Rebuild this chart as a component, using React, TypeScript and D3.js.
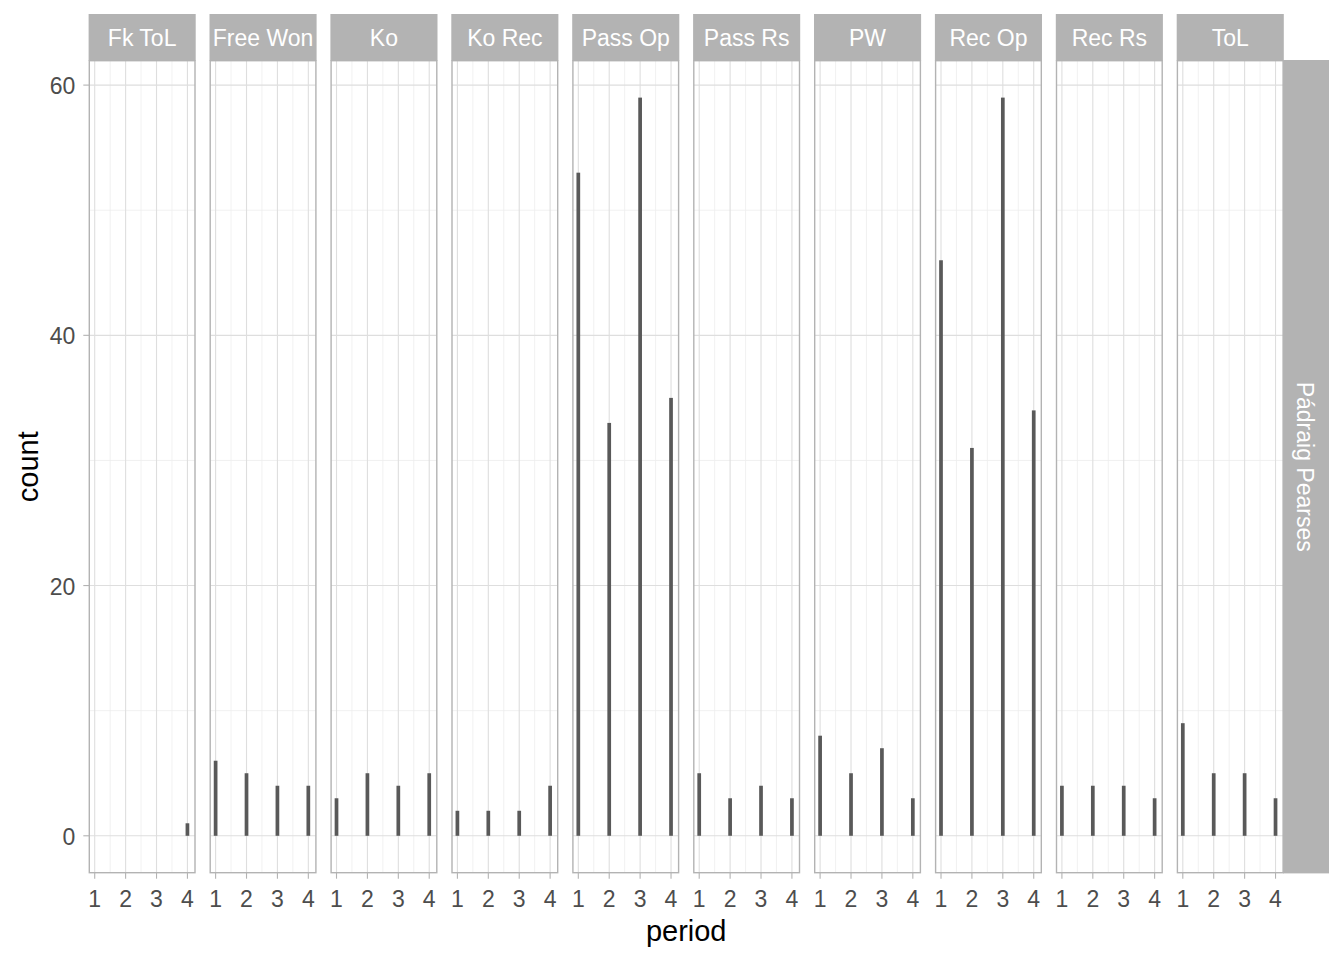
import React from "react";
import * as d3 from "d3";

const facets = ["Fk ToL", "Free Won", "Ko", "Ko Rec", "Pass Op", "Pass Rs", "PW", "Rec Op", "Rec Rs", "ToL"];
const periods = [1, 2, 3, 4];
const counts: number[][] = [
  [0, 0, 0, 1],
  [6, 5, 4, 4],
  [3, 5, 4, 5],
  [2, 2, 2, 4],
  [53, 33, 59, 35],
  [5, 3, 4, 3],
  [8, 5, 7, 3],
  [46, 31, 59, 34],
  [4, 4, 4, 3],
  [9, 5, 5, 3],
];
const yTicks = [0, 20, 40, 60];
const yMinor = [10, 30, 50];
const xMinor = [1.5, 2.5, 3.5];
const rowLabel = "Pádraig Pearses";

export default function App() {
  const W = 1344, H = 960;
  const panelLeft0 = 89.3;
  const panelStep = 120.9;
  const panelW = 105.7;
  const top = 60.7, bottom = 872.7;
  const stripTop = 14;
  const font = "'Liberation Sans', Arial, sans-serif";

  const y = d3.scaleLinear().domain([-2.95, 61.95]).range([bottom, top]);
  const x = d3.scaleLinear().domain([0.825, 4.245]).range([0, panelW]);
  const barW = x(1.12) - x(1);

  const lastRight = panelLeft0 + 9 * panelStep + panelW;

  return (
    <svg width={W} height={H} style={{ position: "absolute", left: 0, top: 0, background: "#fff" }}>
      <rect x={0} y={0} width={W} height={H} fill="#fff" />
      {yTicks.map((t) => (
        <g key={"yt" + t}>
          <line x1={panelLeft0 - 6} x2={panelLeft0} y1={y(t)} y2={y(t)} stroke="#b3b3b3" strokeWidth={1.1} />
          <text x={panelLeft0 - 14} y={y(t) + 1} textAnchor="end" dominantBaseline="central" fontFamily={font} fontSize={23} fill="#4d4d4d">{t}</text>
        </g>
      ))}
      {facets.map((f, i) => {
        const left = panelLeft0 + i * panelStep;
        return (
          <g key={f} transform={`translate(${left},0)`}>
            {yMinor.map((t) => (
              <line key={"ym" + t} x1={0} x2={panelW} y1={y(t)} y2={y(t)} stroke="#ededed" strokeWidth={0.8} />
            ))}
            {xMinor.map((t) => (
              <line key={"xm" + t} x1={x(t)} x2={x(t)} y1={top} y2={bottom} stroke="#ededed" strokeWidth={0.8} />
            ))}
            {yTicks.map((t) => (
              <line key={"yM" + t} x1={0} x2={panelW} y1={y(t)} y2={y(t)} stroke="#dedede" strokeWidth={1.1} />
            ))}
            {periods.map((p) => (
              <line key={"xM" + p} x1={x(p)} x2={x(p)} y1={top} y2={bottom} stroke="#dedede" strokeWidth={1.1} />
            ))}
            {periods.map((p, j) =>
              counts[i][j] > 0 ? (
                <rect key={"b" + p} x={x(p) - barW / 2} y={y(counts[i][j])} width={barW} height={y(0) - y(counts[i][j])} fill="#595959" />
              ) : null
            )}
            <rect x={0} y={top} width={panelW} height={bottom - top} fill="none" stroke="#b3b3b3" strokeWidth={1.4} />
            <rect x={-0.7} y={stripTop} width={panelW + 1.4} height={top - stripTop} fill="#b3b3b3" />
            <text x={panelW / 2} y={(stripTop + top) / 2 + 1} textAnchor="middle" dominantBaseline="central" fontFamily={font} fontSize={23} fill="#ffffff">{f}</text>
            {periods.map((p) => (
              <g key={"xt" + p}>
                <line x1={x(p)} x2={x(p)} y1={bottom} y2={bottom + 6} stroke="#b3b3b3" strokeWidth={1.1} />
                <text x={x(p)} y={bottom + 26} textAnchor="middle" dominantBaseline="central" fontFamily={font} fontSize={23} fill="#4d4d4d">{p}</text>
              </g>
            ))}
          </g>
        );
      })}
      <rect x={lastRight} y={top - 0.7} width={1329 - lastRight} height={bottom - top + 1.4} fill="#b3b3b3" />
      <text
        transform={`translate(${(lastRight + 1329) / 2 - 1},${(top + bottom) / 2}) rotate(90)`}
        textAnchor="middle"
        dominantBaseline="central"
        fontFamily={font}
        fontSize={23}
        fill="#ffffff"
      >
        {rowLabel}
      </text>
      <text x={(panelLeft0 + lastRight) / 2} y={931} textAnchor="middle" dominantBaseline="central" fontFamily={font} fontSize={29} fill="#000">period</text>
      <text transform={`translate(28,${(top + bottom) / 2}) rotate(-90)`} textAnchor="middle" dominantBaseline="central" fontFamily={font} fontSize={29} fill="#000">count</text>
    </svg>
  );
}
